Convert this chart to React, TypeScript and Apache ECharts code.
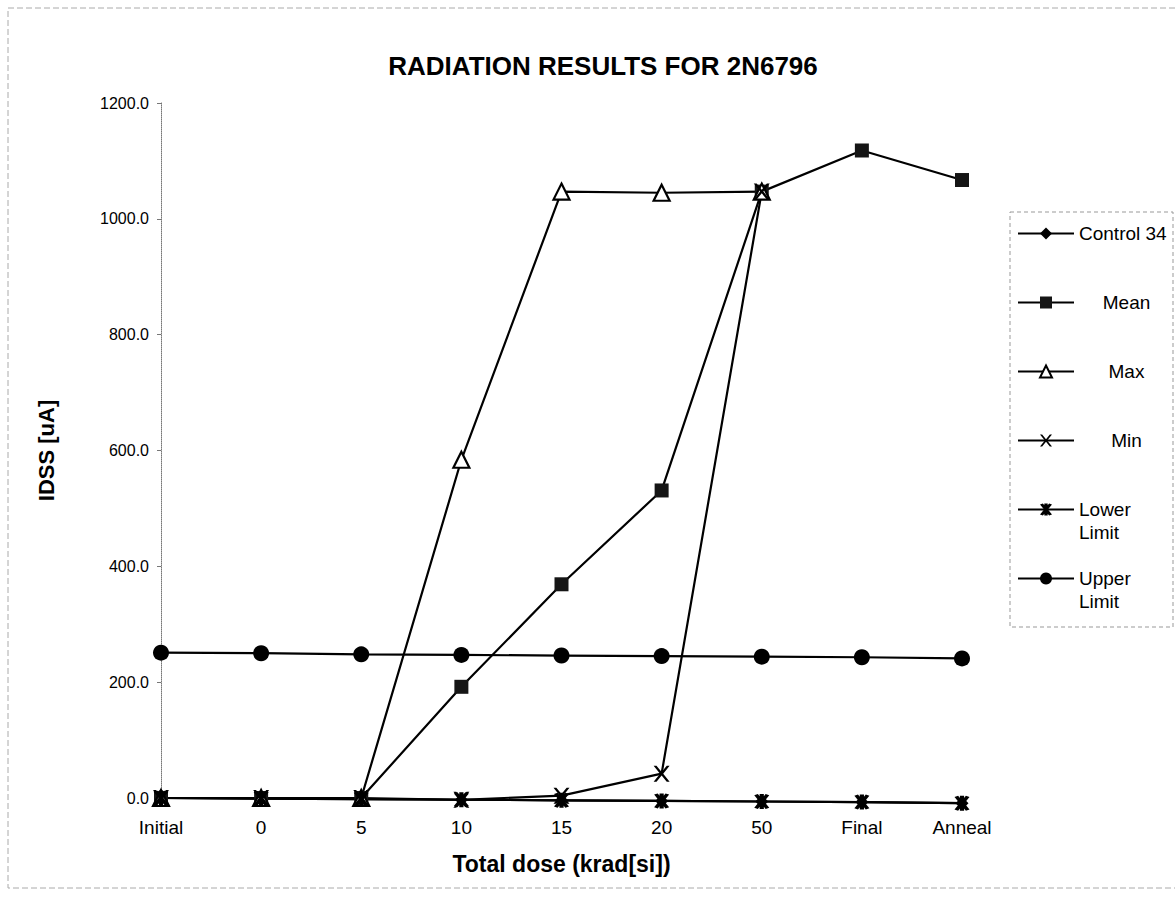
import React, { useEffect, useRef } from "react";
import * as echarts from "echarts";

const categories = ["Initial", "0", "5", "10", "15", "20", "50", "Final", "Anneal"];
const control342 = [0, -1, -2, -3, -4, -5, -6, -7, -9];
const meanValues = [0, 0, 0, 192, 369, 531, 1047, 1118, 1067];
const maxValues = [0, 0, 0, 584, 1047, 1045, 1047, null, null];
const minValues = [0, 0, 0, -3, 4, 42, 1047, null, null];
const lowerLimit = [0, -1, -2, -3, -4, -5, -6, -7, -9];
const upperLimit = [251, 250, 248, 247, 246, 245, 244, 243, 241];
const yTicks = { min: 0, max: 1200, interval: 200 };

const FONT = 'Arial, "Liberation Sans", sans-serif';

const X_PATH = "path://M0,0 L1.8,0 L5,3.9 L8.2,0 L10,0 L6,5 L10,10 L8.2,10 L5,6.1 L1.8,10 L0,10 L4,5 Z";
const STAR_PATH =
  "path://M0,0.8 L2.4,0 L5,3.2 L7.6,0 L10,0.8 L6.6,5 L10,9.2 L7.6,10 L5,6.8 L2.4,10 L0,9.2 L3.4,5 Z M3.6,0 L6.4,0 L6.4,10 L3.6,10 Z";

export default function App() {
  const ref = useRef<HTMLDivElement>(null);
  useEffect(() => {
    if (!ref.current) return;
    const chart = echarts.init(ref.current, undefined, { renderer: "svg" });
    const line = { color: "#000", width: 2.2 };
    const mk = (name: string, data: any[], symbol: string, size: number, item: any) => ({
      name,
      type: "line",
      data,
      symbol,
      symbolSize: size,
      showSymbol: true,
      connectNulls: false,
      lineStyle: line,
      itemStyle: item,
      clip: false,
    });
    const wrap = (body: string) => "{s| }\n" + body + "\n{s| }";
    const LH = 23;
    const option: any = {
      animation: false,
      backgroundColor: "#fff",
      title: {
        text: "RADIATION RESULTS FOR 2N6796",
        left: 598,
        top: 48,
        textAlign: "center",
        textStyle: { fontFamily: FONT, fontSize: 26, fontWeight: "bold", color: "#000" },
      },
      grid: { left: 161, right: 213, top: 103, bottom: 105 },
      legend: {
        orient: "vertical",
        left: 1010,
        top: 199,
        padding: [0, 0, 0, 7],
        itemWidth: 56,
        itemHeight: 15,
        itemGap: 0,
        data: ["Control 342", "Mean", "Max", "Min", "Lower Limit", "Upper Limit"],
        formatter: (name: string) => {
          if (name === "Mean" || name === "Max" || name === "Min") return wrap("{r|" + name + "}");
          if (name === "Lower Limit") return "{s| }\n{l|Lower}\n{l|Limit}";
          if (name === "Upper Limit") return "{s| }\n{l|Upper}\n{l|Limit}";
          return wrap("{l|" + name + "}");
        },
        textStyle: {
          fontFamily: FONT,
          fontSize: 19,
          color: "#000",
          lineHeight: LH,
          width: 95,
          overflow: "truncate",
          ellipsis: "",
          rich: {
            s: { fontFamily: FONT, fontSize: 19, lineHeight: LH },
            l: { fontFamily: FONT, fontSize: 19, lineHeight: LH, color: "#000" },
            r: { width: 84, align: "center", fontFamily: FONT, fontSize: 19, lineHeight: LH, color: "#000" },
          },
        },
      },
      xAxis: {
        type: "category",
        data: categories,
        boundaryGap: false,
        name: "Total dose (krad[si])",
        nameLocation: "middle",
        nameGap: 54,
        nameTextStyle: { fontFamily: FONT, fontSize: 23, fontWeight: "bold", color: "#000" },
        axisLine: { show: false },
        axisTick: { show: false },
        axisLabel: { fontFamily: FONT, fontSize: 19, color: "#000", margin: 20 },
        splitLine: { show: false },
      },
      yAxis: {
        type: "value",
        min: yTicks.min,
        max: yTicks.max,
        interval: yTicks.interval,
        name: "IDSS [uA]",
        nameLocation: "middle",
        nameGap: 104,
        nameRotate: 90,
        nameTextStyle: { fontFamily: FONT, fontSize: 22, fontWeight: "bold", color: "#000" },
        axisLine: { show: true, lineStyle: { color: "#777", width: 1, type: "dotted" } },
        axisTick: { show: true, length: 4, lineStyle: { color: "#777" } },
        axisLabel: {
          fontFamily: FONT,
          fontSize: 16,
          color: "#000",
          margin: 12,
          formatter: (v: number) => v.toFixed(1),
        },
        splitLine: { show: false },
      },
      series: [
        mk("Control 342", control342, "diamond", 13, { color: "#000" }),
        mk("Mean", meanValues, "rect", 14, { color: "#151515" }),
        mk("Max", maxValues, "triangle", 16, { color: "#fff", borderColor: "#000", borderWidth: 2.2 }),
        mk("Min", minValues, X_PATH, 16, { color: "#000" }),
        mk("Lower Limit", lowerLimit, STAR_PATH, 15, { color: "#000" }),
        mk("Upper Limit", upperLimit, "circle", 16, { color: "#000" }),
      ],
      graphic: [
        {
          type: "rect",
          shape: { x: 8, y: 8, width: 1190, height: 880 },
          style: { fill: "none", stroke: "#aaa", lineWidth: 1, lineDash: [6, 3] },
          silent: true,
          z: -10,
        },
        {
          type: "rect",
          shape: { x: 1010, y: 212, width: 163, height: 415 },
          style: { fill: "none", stroke: "#999", lineWidth: 1, lineDash: [4, 3] },
          silent: true,
          z: -5,
        },
      ],
    };
    chart.setOption(option);
    return () => chart.dispose();
  }, []);
  return (
    <div
      ref={ref}
      style={{ position: "fixed", left: 0, top: 0, width: 1175, height: 903, background: "#fff" }}
    />
  );
}
